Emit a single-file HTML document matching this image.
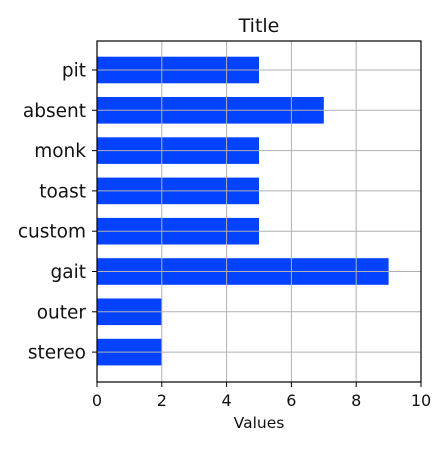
<!DOCTYPE html>
<html><head><style>body{margin:0;background:#fff}svg{font-family:"DejaVu Sans","Liberation Sans",sans-serif}</style></head>
<body>
<svg width="448" height="448">
<g id="grid"></g><g id="bars"></g><g id="axes"></g>
</svg>
<script>
const categories=["pit","absent","monk","toast","custom","gait","outer","stereo"];
const values=[5,7,5,5,5,9,2,2];
const ticks=[0,2,4,6,8,10];
const L=97,R=421,T=41,B=382;
const x=v=>L+(R-L)*v/10;
const yc=i=>70+i*40.3;
const ns="http://www.w3.org/2000/svg";
function mk(t,a,p){const e=document.createElementNS(ns,t);for(const k in a)e.setAttribute(k,a[k]);p.appendChild(e);return e;}
const svg=document.querySelector('svg'),g=document.getElementById('grid'),b=document.getElementById('bars'),ax=document.getElementById('axes');
categories.forEach((c,i)=>{
 const r=mk('rect',{x:L,y:yc(i)-13.3,width:x(values[i])-L,height:26.6,fill:'#0343ff'},b);
 
 
 const gl=mk('line',{x1:L,x2:R,y1:yc(i),y2:yc(i),stroke:'#b0b0b0','stroke-width':1},ax);
 
 
 mk('line',{x1:L-5,x2:L,y1:yc(i),y2:yc(i),stroke:'#000'},ax);
 const t=mk('text',{x:L-11,y:yc(i)+6.5,'text-anchor':'end','font-size':18.5,fill:'#111'},ax);t.textContent=c;
 
 
});
ticks.forEach(v=>{
 const gl=mk('line',{x1:x(v),x2:x(v),y1:T,y2:B,stroke:'#b0b0b0','stroke-width':1},ax);
 
 
 mk('line',{x1:x(v),x2:x(v),y1:B,y2:B+5,stroke:'#000'},ax);
 const t=mk('text',{x:x(v),y:B+24,'text-anchor':'middle','font-size':16,fill:'#111'},ax);t.textContent=v;
 
 
});
const f=mk('rect',{x:L,y:T,width:R-L,height:B-T,fill:'none',stroke:'#000','stroke-width':1.2},ax);


const tt=mk('text',{x:(L+R)/2,y:32,'text-anchor':'middle','font-size':19,fill:'#111'},ax);tt.textContent='Title';


const xl=mk('text',{x:(L+R)/2,y:428,'text-anchor':'middle','font-size':15.5,fill:'#111'},ax);xl.textContent='Values';


</script>
</body></html>
